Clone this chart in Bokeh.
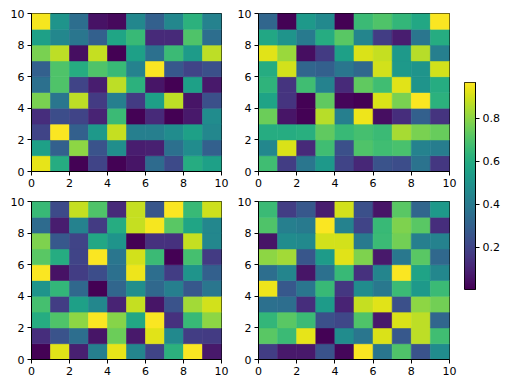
import numpy as np
from bokeh.plotting import figure
from bokeh.layouts import row, column
from bokeh.models import Range1d, LinearColorMapper, FixedTicker, ColumnDataSource
from bokeh.transform import linear_cmap
from bokeh.palettes import Viridis256
from bokeh.embed import file_html
from bokeh.resources import INLINE

# rows listed from top (y=9..10) to bottom (y=0..1)
panel_a = [
    [0.95, 0.50, 0.35, 0.05, 0.03, 0.45, 0.30, 0.45, 0.62, 0.43],
    [0.55, 0.45, 0.38, 0.30, 0.57, 0.65, 0.12, 0.12, 0.70, 0.35],
    [0.77, 0.87, 0.04, 0.88, 0.00, 0.55, 0.36, 0.66, 0.53, 0.87],
    [0.30, 0.70, 0.60, 0.70, 0.65, 0.43, 0.96, 0.27, 0.20, 0.24],
    [0.36, 0.70, 0.20, 0.08, 0.87, 0.62, 0.06, 0.00, 0.55, 0.07],
    [0.77, 0.38, 0.87, 0.17, 0.42, 0.17, 0.55, 0.87, 0.06, 0.24],
    [0.13, 0.23, 0.20, 0.10, 0.66, 0.01, 0.12, 0.00, 0.07, 0.47],
    [0.20, 0.96, 0.30, 0.52, 0.88, 0.42, 0.42, 0.47, 0.55, 0.45],
    [0.55, 0.30, 0.80, 0.25, 0.48, 0.08, 0.09, 0.36, 0.47, 0.30],
    [0.93, 0.60, 0.01, 0.20, 0.01, 0.06, 0.34, 0.22, 0.60, 0.55],
]
panel_b = [
    [0.32, 0.01, 0.52, 0.46, 0.00, 0.66, 0.70, 0.64, 0.58, 0.96],
    [0.58, 0.50, 0.40, 0.60, 0.72, 0.44, 0.18, 0.08, 0.38, 0.60],
    [0.92, 0.82, 0.04, 0.17, 0.55, 0.91, 0.88, 0.52, 0.86, 0.42],
    [0.60, 0.90, 0.32, 0.30, 0.38, 0.33, 0.90, 0.52, 0.50, 0.90],
    [0.63, 0.15, 0.67, 0.43, 0.12, 0.73, 0.67, 0.92, 0.50, 0.60],
    [0.56, 0.15, 0.01, 0.73, 0.02, 0.00, 0.91, 0.77, 0.96, 0.62],
    [0.75, 0.06, 0.01, 0.86, 0.42, 0.94, 0.04, 0.13, 0.30, 0.15],
    [0.60, 0.60, 0.61, 0.73, 0.65, 0.68, 0.66, 0.84, 0.77, 0.74],
    [0.45, 0.91, 0.12, 0.67, 0.24, 0.70, 0.67, 0.69, 0.43, 0.41],
    [0.67, 0.18, 0.38, 0.52, 0.20, 0.11, 0.25, 0.23, 0.37, 0.16],
]
panel_c = [
    [0.65, 0.22, 0.88, 0.70, 0.12, 0.88, 0.26, 0.96, 0.65, 0.89],
    [0.34, 0.08, 0.43, 0.17, 0.60, 0.88, 0.95, 0.72, 0.57, 0.45],
    [0.78, 0.27, 0.20, 0.58, 0.50, 0.00, 0.14, 0.14, 0.88, 0.45],
    [0.72, 0.60, 0.20, 0.96, 0.38, 0.90, 0.66, 0.00, 0.68, 0.17],
    [0.96, 0.05, 0.18, 0.23, 0.36, 0.94, 0.35, 0.18, 0.50, 0.30],
    [0.50, 0.64, 0.33, 0.00, 0.32, 0.48, 0.33, 0.42, 0.27, 0.38],
    [0.68, 0.18, 0.55, 0.45, 0.10, 0.88, 0.06, 0.25, 0.83, 0.90],
    [0.60, 0.70, 0.80, 0.96, 0.79, 0.58, 0.96, 0.14, 0.65, 0.80],
    [0.13, 0.25, 0.35, 0.06, 0.75, 0.07, 0.92, 0.46, 0.18, 0.17],
    [0.01, 0.92, 0.09, 0.42, 0.93, 0.44, 0.20, 0.62, 0.96, 0.07],
]
panel_d = [
    [0.66, 0.18, 0.27, 0.08, 0.90, 0.24, 0.06, 0.72, 0.32, 0.52],
    [0.70, 0.42, 0.40, 0.96, 0.43, 0.20, 0.65, 0.78, 0.72, 0.13],
    [0.06, 0.47, 0.46, 0.90, 0.90, 0.40, 0.66, 0.76, 0.42, 0.43],
    [0.80, 0.83, 0.26, 0.53, 0.92, 0.78, 0.07, 0.39, 0.72, 0.33],
    [0.35, 0.44, 0.06, 0.36, 0.65, 0.14, 0.44, 0.96, 0.56, 0.45],
    [0.94, 0.27, 0.38, 0.65, 0.16, 0.47, 0.39, 0.66, 0.52, 0.66],
    [0.36, 0.35, 0.13, 0.53, 0.10, 0.88, 0.92, 0.24, 0.80, 0.76],
    [0.64, 0.72, 0.66, 0.24, 0.21, 0.70, 0.07, 0.91, 0.87, 0.32],
    [0.72, 0.66, 0.93, 0.01, 0.47, 0.38, 0.91, 0.27, 0.87, 0.67],
    [0.18, 0.07, 0.07, 0.25, 0.02, 0.96, 0.38, 0.70, 0.25, 0.47],
]
axis_ticks = [0, 2, 4, 6, 8, 10]
colorbar_ticks = [0.2, 0.4, 0.6, 0.8]
color_low = 0.004
color_high = 0.965

FONT = "DejaVu Sans"


def style_axes(p):
    for ax in p.axis:
        ax.major_label_text_font = FONT
        ax.major_label_text_font_size = "11px"
        ax.major_label_text_color = "black"
        ax.major_tick_out = 4
        ax.major_tick_in = 0
        ax.minor_tick_out = 0
        ax.minor_tick_in = 0
        ax.major_label_standoff = 3
        ax.axis_line_color = "black"
        ax.major_tick_line_color = "black"


def panel(vals, bl, br, bt, bb, fw):
    p = figure(frame_width=fw, frame_height=158,
               x_range=Range1d(0, 10), y_range=Range1d(0, 10),
               output_backend="svg", toolbar_location=None,
               min_border_left=bl, min_border_right=br,
               min_border_top=bt, min_border_bottom=bb)
    arr = np.array(vals)[::-1]
    ny, nx = arr.shape
    xs, ys = np.meshgrid(np.arange(nx) + 0.5, np.arange(ny) + 0.5)
    src = ColumnDataSource(dict(x=xs.ravel(), y=ys.ravel(), v=arr.ravel()))
    cmap = linear_cmap("v", Viridis256, color_low, color_high)
    p.rect(x="x", y="y", width=1, height=1, source=src,
           fill_color=cmap, line_color=cmap, line_width=0.6)
    p.xgrid.visible = False
    p.ygrid.visible = False
    p.xaxis.ticker = FixedTicker(ticks=axis_ticks)
    p.yaxis.ticker = FixedTicker(ticks=axis_ticks)
    p.outline_line_color = "black"
    p.outline_line_width = 1
    p.outline_line_alpha = 1
    style_axes(p)
    return p


f1 = panel(panel_a, 31, 10, 13, 24, 190)
f2 = panel(panel_b, 27, 10, 13, 24, 191)
f3 = panel(panel_c, 31, 10, 6, 19, 190)
f4 = panel(panel_d, 27, 10, 6, 19, 191)

# colorbar
cb = figure(frame_width=11, frame_height=207,
            x_range=Range1d(0, 1), y_range=Range1d(color_low, color_high),
            x_axis_location=None, y_axis_location="right",
            output_backend="svg", toolbar_location=None,
            min_border_left=5, min_border_right=25,
            min_border_top=82, min_border_bottom=10)
grad = np.linspace(color_low, color_high, 256).reshape(256, 1)
mapper = LinearColorMapper(palette=Viridis256, low=color_low, high=color_high)
cb.image(image=[grad], x=0, y=color_low, dw=1, dh=color_high - color_low,
         color_mapper=mapper)
cb.xgrid.visible = False
cb.ygrid.visible = False
cb.yaxis.ticker = FixedTicker(ticks=colorbar_ticks)
cb.outline_line_color = "black"
cb.outline_line_width = 1
style_axes(cb)

layout = row(column(row(f1, f2), row(f3, f4)), cb)

open("out.html", "w").write(file_html(layout, INLINE))
